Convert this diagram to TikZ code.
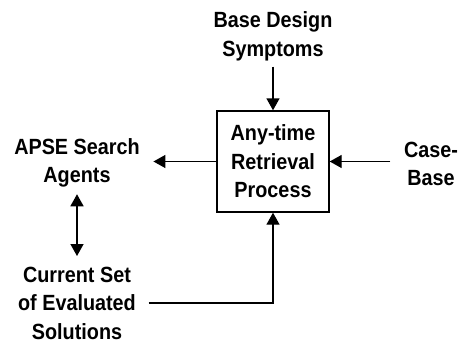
\documentclass[tikz,border=0pt]{standalone}
\usepackage{fontspec}
\setmainfont[FakeStretch=0.9]{Liberation Sans}
\usepackage{tikz}
\usetikzlibrary{arrows.meta}

\begin{document}
\begin{tikzpicture}[>={Triangle[length=12pt,width=13pt]},x=1pt,y=-1pt,line width=1.4pt,
  lbl/.style={align=center,font=\fontsize{22}{28.5}\selectfont\bfseries,inner sep=1pt}]

\useasboundingbox (0,0) rectangle (462,345);

\node (box) at (273,161.5) [draw,lbl,minimum width=112pt,minimum height=101pt] {Any-time\\Retrieval\\Process};
\node (symp) at (273,36.5) [lbl] {Base Design\\Symptoms};
\node (apse) at (77,163) [lbl] {APSE Search\\Agents};
\node (case) at (431,164) [lbl] {Case-\\Base};
\node (curr) at (77,303) [lbl] {Current Set\\of Evaluated\\Solutions};

\draw[->] ([yshift=-4pt]symp.south) -- (box.north);
\draw[->] (box.west) -- ([xshift=12pt]apse.east |- box.west);
\draw[->] ([xshift=-12pt]case.west |- box.east) -- (box.east);
\draw[<->] ([yshift=-5pt]apse.south) -- ([yshift=9pt]curr.north);
\draw[->] ([xshift=11pt]curr.east) -| (box.south);

\end{tikzpicture}
\end{document}
